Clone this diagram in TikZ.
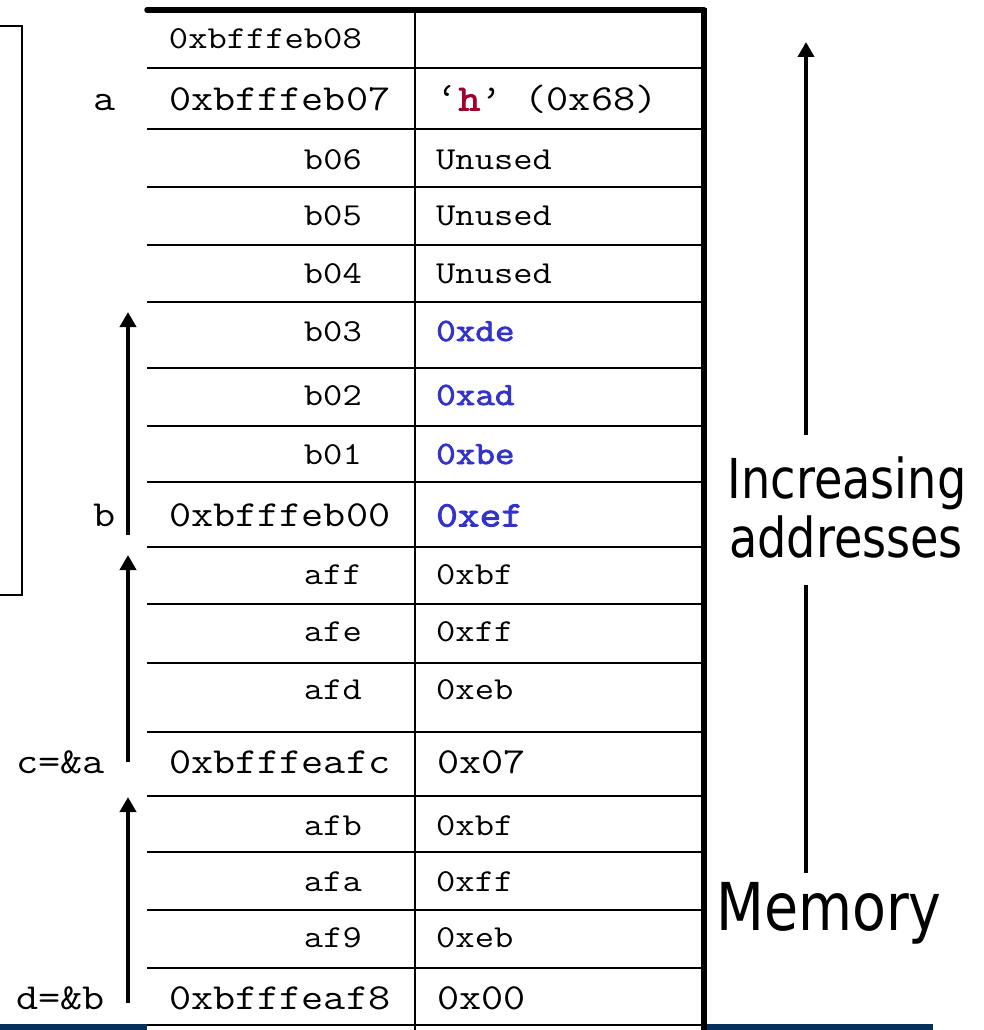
\documentclass[tikz,border=0pt]{standalone}
\usepackage{fontspec}
\setmonofont{Latin Modern Mono}[FakeStretch=1.17, AutoFakeBold=2.4]
\newfontfamily\labelfont{DejaVu Sans}[FakeStretch=0.84]
\usetikzlibrary{arrows.meta}
\definecolor{valblue}{HTML}{3333CC}
\definecolor{hred}{HTML}{A0002A}
\definecolor{barblue}{HTML}{06305C}
\begin{document}
\begin{tikzpicture}[x=1pt,y=-1pt,
  sm/.style={font=\fontsize{32}{36}\selectfont\ttfamily, inner sep=0pt},
  lg/.style={font=\fontsize{36.7}{40}\selectfont\ttfamily, inner sep=0pt},
  smb/.style={font=\fontsize{32.5}{36}\selectfont\ttfamily\bfseries, text=valblue, inner sep=0pt},
  lgb/.style={font=\fontsize{36}{40}\selectfont\ttfamily\bfseries, text=valblue, inner sep=0pt},
  rowline/.style={line width=2pt},
  thickline/.style={line width=5.5pt},
  uparrow/.style={line width=4.5pt, -{Triangle[width=16pt,length=15pt]}},
  plainshaft/.style={line width=4.5pt},
  bigtext/.style={font=\labelfont, inner sep=0pt}
]
\useasboundingbox (0,0) rectangle (984,1030);
% bottom bar
\fill[barblue] (0,1024) rectangle (933,1030);
\fill[white] (147,1024) rectangle (703,1030);
% left bracket
\draw[line width=2.5pt] (0,26) -- (22,26) -- (22,595) -- (0,595);
% row lines
\foreach \yy in {68,129,187,245,302,368,426,482,547,604,663,732,796,852,910,968,1025}
  \draw[rowline] (147,\yy) -- (704,\yy);
% middle divider
\draw[rowline] (415,10) -- (415,1030);
% thick border
\draw[thickline, line cap=round] (147,10) -- (704,10);
\draw[thickline] (704,8) -- (704,1030);

% address column
\node[sm, anchor=base east] (r1a) at (362,49) {0xbfffeb08};
\node[lg, anchor=base west] (r2a) at (169,110.5) {0xbfffeb07};
\node[sm, anchor=base east] (r3a) at (362,169) {b06};
\node[sm, anchor=base east] (r4a) at (362,225) {b05};
\node[sm, anchor=base east] (r5a) at (362,283) {b04};
\node[sm, anchor=base east] (r6a) at (362,341) {b03};
\node[sm, anchor=base east] (r7a) at (362,405) {b02};
\node[sm, anchor=base east] (r8a) at (362,464) {b01};
\node[lg, anchor=base west] (r9a) at (169,526.5) {0xbfffeb00};
\node[sm, anchor=base east] (r10a) at (362,584) {aff};
\node[sm, anchor=base east] (r11a) at (362,641) {afe};
\node[sm, anchor=base east] (r12a) at (362,699) {afd};
\node[lg, anchor=base west] (r13a) at (169,773.5) {0xbfffeafc};
\node[sm, anchor=base east] (r14a) at (362,835) {afb};
\node[sm, anchor=base east] (r15a) at (362,891) {afa};
\node[sm, anchor=base east] (r16a) at (362,947) {af9};
\node[lg, anchor=base west] (r17a) at (169,1009.5) {0xbfffeaf8};

% value column
\node[lg, anchor=base west] (r2v) at (436,110.5) {‘\textcolor{hred}{\bfseries h}’ (0x68)};
\node[sm, anchor=base west] (r3v) at (436,169) {Unused};
\node[sm, anchor=base west] (r4v) at (436,225) {Unused};
\node[sm, anchor=base west] (r5v) at (436,283) {Unused};
\node[smb, anchor=base west] (r6v) at (436,341) {0xde};
\node[smb, anchor=base west] (r7v) at (436,405) {0xad};
\node[smb, anchor=base west] (r8v) at (436,464) {0xbe};
\node[lgb, anchor=base west] (r9v) at (436,526.5) {0xef};
\node[sm, anchor=base west] (r10v) at (436,584) {0xbf};
\node[sm, anchor=base west] (r11v) at (436,641) {0xff};
\node[sm, anchor=base west] (r12v) at (436,699) {0xeb};
\node[lg, anchor=base west] (r13v) at (437,773.5) {0x07};
\node[sm, anchor=base west] (r14v) at (436,835) {0xbf};
\node[sm, anchor=base west] (r15v) at (436,891) {0xff};
\node[sm, anchor=base west] (r16v) at (436,947) {0xeb};
\node[lg, anchor=base west] (r17v) at (437,1009.5) {0x00};

% left labels
\node[lg, anchor=base east] (la) at (116,110.5) {a};
\node[lg, anchor=base east] (lb) at (116,526.5) {b};
\node[lg, anchor=base west] (lc) at (16,773.5) {c=\&a};
\node[lg, anchor=base west] (ld) at (16,1009.5) {d=\&b};

% left arrows
\coordinate (a1s) at (128,535);
\coordinate (a1e) at (128,312);
\coordinate (a2s) at (128,762);
\coordinate (a2e) at (128,555);
\coordinate (a3s) at (128,1003);
\coordinate (a3e) at (128,797);
\draw[uparrow] (a1s) -- (a1e);
\draw[uparrow] (a2s) -- (a2e);
\draw[uparrow] (a3s) -- (a3e);

% right side
\node[bigtext, font=\labelfont\fontsize{55}{60}\selectfont, anchor=base] (inc) at (847,498) {Increasing};
\node[bigtext, font=\labelfont\fontsize{55}{60}\selectfont, anchor=base] (addr) at (846,557) {addresses};
\node[bigtext, font=\labelfont\fontsize{66}{70}\selectfont, anchor=base] (mem) at (829,930) {Memory};
\coordinate (ra1) at (806,435);
\coordinate (ra2) at (806,42);
\coordinate (rb1) at (806,585);
\coordinate (rb2) at (806,873);
\draw[uparrow] (ra1) -- (ra2);
\draw[plainshaft] (rb1) -- (rb2);
\end{tikzpicture}
\end{document}
